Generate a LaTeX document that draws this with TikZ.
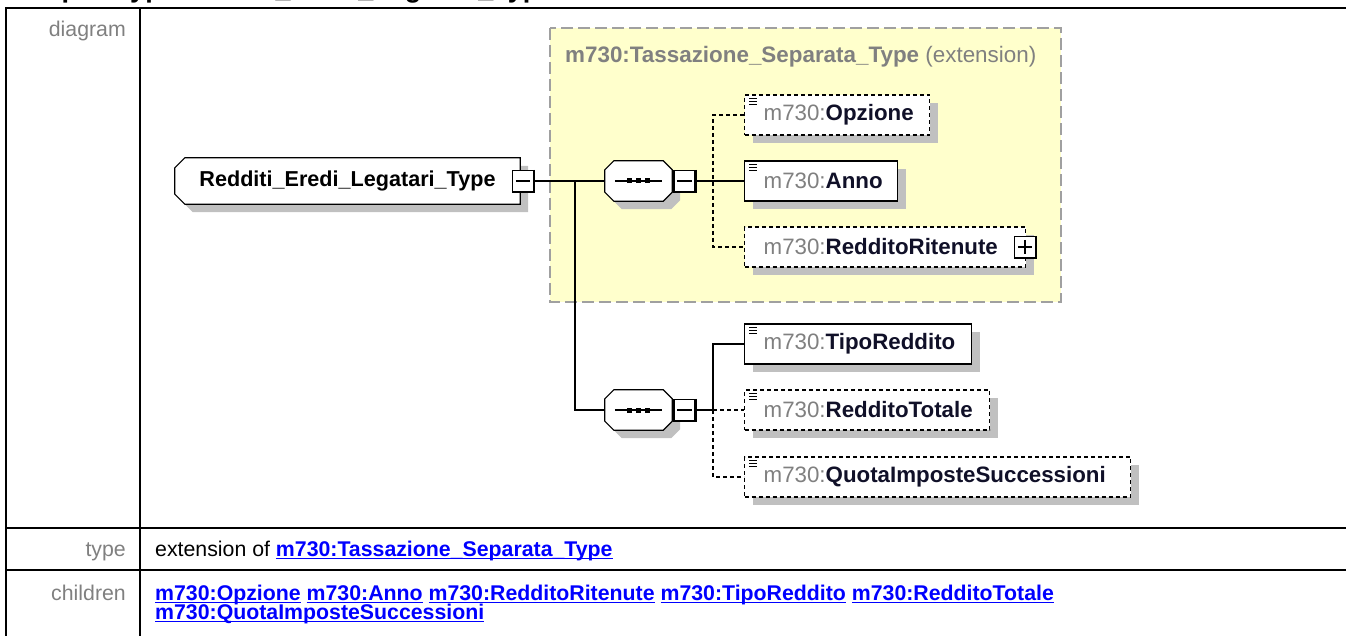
\documentclass[tikz,border=0pt]{standalone}
\usepackage{fontspec}
\setmainfont{Liberation Sans}
\usepackage{tikz}
\usetikzlibrary{positioning,backgrounds,shadows}
\definecolor{xsInk}{HTML}{101028}
\definecolor{xsPrefix}{HTML}{808080}
\definecolor{xsShadow}{HTML}{C0C0C0}
\definecolor{xsExt}{HTML}{FFFFCC}
\definecolor{xsExtLine}{HTML}{A0A0A0}
\definecolor{xsLabel}{HTML}{808080}
\definecolor{xsLink}{HTML}{0000FF}
\newcommand{\xsfont}{\fontsize{22.3}{27}\selectfont}
\newcommand{\xstab}{\fontsize{21.3}{18}\selectfont}
\newcommand{\xsname}[1]{\textcolor{xsPrefix}{m730:}\textbf{#1}}
\newcommand{\xslink}[1]{\underline{\smash{\textbf{m730:#1}}\rule[-1.2pt]{0pt}{1.2pt}}}
\tikzset{
  xs diagram/.style={x=1pt, y=-1pt},
  xs shadow/.style={drop shadow={shadow xshift=8pt, shadow yshift=-8pt,
    fill=xsShadow, opacity=1}},
  xs shape/.style={draw=black, line width=1.2pt, fill=white, xs shadow},
  xs elem/.style={draw=black, line width=1.4pt, fill=white, xs shadow,
    anchor=west, minimum height=40pt, inner xsep=19pt, inner ysep=0pt,
    align=left, font=\xsfont, text=xsInk},
  xs opt elem/.style={xs elem, dash pattern=on 4pt off 3pt},
  xs root/.style={minimum width=345pt, minimum height=46pt,
    font=\fontsize{21.6}{26}\selectfont\bfseries},
  xs seq/.style={minimum width=67pt, minimum height=40pt, inner sep=0pt},
  xs toggle/.style={draw=black, line width=1.2pt, fill=white,
    minimum size=21pt, inner sep=0pt},
  xs line/.style={line width=1.4pt},
  xs opt line/.style={xs line, dash pattern=on 4pt off 3pt},
  xs ext/.style={draw=xsExtLine, fill=xsExt, line width=1.5pt,
    dash pattern=on 12pt off 5pt},
  xs rule/.style={line width=2.6pt},
  xs label/.style={font=\xstab, text=xsLabel, anchor=base east, inner sep=0pt},
  xs cell/.style={font=\xstab, anchor=base west, inner sep=0pt}
}
% octagon round a node: name, chamfer
\newcommand{\xsoctagon}[2]{([xshift=#2]#1.north west) -- ([xshift=-#2]#1.north east)
  -- ([yshift=-#2]#1.north east) -- ([yshift=#2]#1.south east)
  -- ([xshift=-#2]#1.south east) -- ([xshift=#2]#1.south west)
  -- ([yshift=#2]#1.south west) -- ([yshift=-#2]#1.north west) -- cycle}
% simple content mark
\newcommand{\xsicon}[1]{%
  \foreach \k in {0,1,2}
    \draw[line width=1pt] ([xshift=5pt,yshift=-4pt-\k*3pt]#1.north west) -- ++(8,0);}
\newcommand{\xsminus}[1]{%
  \draw[line width=1.2pt] ([xshift=4pt]#1.west) -- ([xshift=-4pt]#1.east);
  \draw[line width=2.4pt] (#1.north east) -- (#1.south east) -- (#1.south west);}
\newcommand{\xsplus}[1]{%
  \xsminus{#1}
  \draw[line width=1.2pt] ([yshift=-4pt]#1.north) -- ([yshift=4pt]#1.south);}
\newcommand{\xsseqmark}[1]{%
  \draw[line width=1.2pt] ([xshift=10pt]#1.west) -- ([xshift=-10pt]#1.east);
  \foreach \d in {-9,0,9}
    \fill ([xshift=\d pt]#1.center) +(-2.5,-2.5) rectangle +(2.5,2.5);}

\begin{document}
\begin{tikzpicture}[xs diagram]
\useasboundingbox (0,0) rectangle (1346,636);
\clip (0,0) rectangle (1346,636);
% table
\node[anchor=base west, inner sep=0pt, font=\fontsize{27}{30}\selectfont\bfseries] (head) at (6,-2) {complexType Redditi\_Eredi\_Legatari\_Type};
\draw[xs rule] (6,8) -- (6,636);
\draw[xs rule] (140,8) -- (140,636);
\draw[xs rule] (5,8) -- (1346,8);
\draw[xs rule] (5,528) -- (1346,528);
\draw[xs rule] (5,570) -- (1346,570);
\node[xs label] (lbldiagram) at (126,37) {diagram};
\node[xs label] (lbltype) at (126,556) {type};
\node[xs label] (lblchildren) at (126,600) {children};
\node[xs cell] (typecell) at (155,556) {extension of \textcolor{xsLink}{\xslink{Tassazione\_Separata\_Type}}};
\node[xs cell, text=xsLink] (childrow) at (155,600) {\xslink{Opzione} \xslink{Anno} \xslink{RedditoRitenute} \xslink{TipoReddito} \xslink{RedditoTotale}};
\node[xs cell, text=xsLink] (childrowb) at (155,619) {\xslink{QuotaImposteSuccessioni}};

% extension base
\draw[xs ext] (550,28) rectangle (1061,302);
\node[anchor=base west, inner sep=0pt, text=xsPrefix, font=\fontsize{22.4}{26}\selectfont] (exttitle) at (565,63) {\textbf{m730:Tassazione\_Separata\_Type} (extension)};

% root type
\node[xs root] (root) at (347.5,181) {Redditi\_Eredi\_Legatari\_Type};
\begin{scope}[on background layer]
  \fill[white] (0,0) rectangle (1346,636);
  \filldraw[xs shape] ([xshift=10pt]root.north west) -- (root.north east)
    -- (root.south east) -- ([xshift=10pt]root.south west)
    -- ([yshift=10pt]root.south west) -- ([yshift=-10pt]root.north west) -- cycle;
\end{scope}
\node[xs toggle] (roottog) at (523,181) {};
\xsminus{roottog}

% sequences
\node[xs seq] (seqa) at (638.5,181) {};
\filldraw[xs shape] \xsoctagon{seqa}{9pt};
\xsseqmark{seqa}
\node[xs toggle] (seqatog) at (684.5,181) {};
\xsminus{seqatog}
\node[xs seq] (seqb) at (638.5,410) {};
\filldraw[xs shape] \xsoctagon{seqb}{9pt};
\xsseqmark{seqb}
\node[xs toggle] (seqbtog) at (684.5,410) {};
\xsminus{seqbtog}

% elements
\node[xs opt elem, text width=147pt] (opzione) at (744,115) {\xsname{Opzione}};
\xsicon{opzione}
\node[xs elem, text width=115pt] (anno) at (744,181) {\xsname{Anno}};
\xsicon{anno}
\node[xs opt elem, text width=243pt] (ritenute) at (744,247) {\xsname{RedditoRitenute}};
\node[xs toggle] (ritenutetog) at (1025,247) {};
\xsplus{ritenutetog}
\node[xs elem, text width=189pt] (tipo) at (744,344) {\xsname{TipoReddito}};
\xsicon{tipo}
\node[xs opt elem, text width=207pt] (totale) at (744,410) {\xsname{RedditoTotale}};
\xsicon{totale}
\node[xs opt elem, text width=348pt] (quota) at (744,477) {\xsname{QuotaImposteSuccessioni}};
\xsicon{quota}

% connectors
\coordinate (trunk) at (575,181);
\coordinate (forka) at (713,181);
\coordinate (forkb) at (713,410);
\draw[xs line] (roottog) -- (seqa);
\draw[xs line] (trunk) |- (seqb.west);
\draw[xs line] (seqatog) -- (anno);
\draw[xs opt line] (opzione.west) -| (forka) |- (ritenute.west);
\draw[xs line] (seqbtog.east) -- (forkb) |- (tipo.west);
\draw[xs opt line] (forkb) -- (totale.west);
\draw[xs opt line] (forkb) |- (quota.west);
\end{tikzpicture}
\end{document}
